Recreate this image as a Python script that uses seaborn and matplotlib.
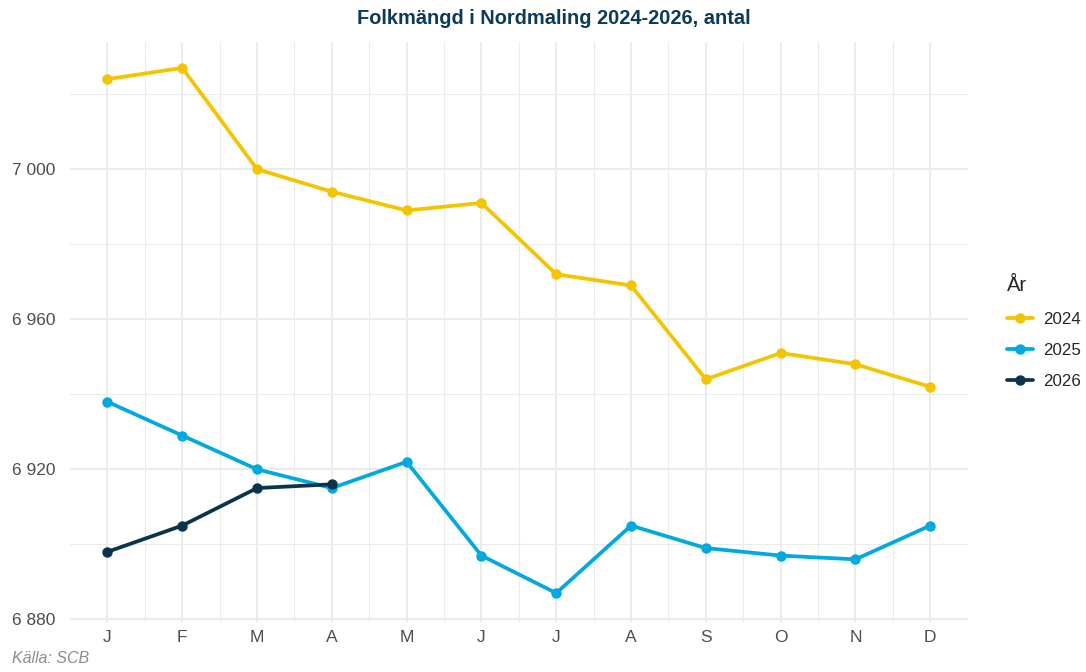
import matplotlib
matplotlib.use("Agg")
import matplotlib.pyplot as plt
import seaborn as sns
import pandas as pd
from matplotlib.ticker import FixedLocator, FuncFormatter

months = ["J", "F", "M", "A", "M", "J", "J", "A", "S", "O", "N", "D"]
v2024 = [7024, 7027, 7000, 6994, 6989, 6991, 6972, 6969, 6944, 6951, 6948, 6942]
v2025 = [6938, 6929, 6920, 6915, 6922, 6897, 6887, 6905, 6899, 6897, 6896, 6905]
v2026 = [6898, 6905, 6915, 6916]
years = ["2024", "2025", "2026"]
colors = ["#F5C400", "#00A9E0", "#0B344C"]

rows = []
for y, vals in zip(years, [v2024, v2025, v2026]):
    for i, v in enumerate(vals):
        rows.append({"Månad": i, "Folkmängd": v, "År": y})
df = pd.DataFrame(rows)

sns.set_theme(style="white")
plt.rcParams["font.family"] = ["Liberation Sans", "DejaVu Sans"]

fig = plt.figure(figsize=(10.86, 6.72), dpi=100)
ax = fig.add_axes([0.0645, 0.0744, 0.8265, 0.8631])

ax.set_xlim(-0.5, 11.5)
ax.set_ylim(6879.3, 7033.9)
grid_c = "#EBEBEB"
for x in range(12):
    ax.axvline(x, color=grid_c, lw=1.4, zorder=0)
for x in range(11):
    ax.axvline(x + 0.5, color=grid_c, lw=0.8, zorder=0)
for y in [6880, 6920, 6960, 7000]:
    ax.axhline(y, color=grid_c, lw=1.4, zorder=0)
for y in [6900, 6940, 6980, 7020]:
    ax.axhline(y, color=grid_c, lw=0.8, zorder=0)

sns.lineplot(data=df, x="Månad", y="Folkmängd", hue="År", palette=colors,
             hue_order=years, marker="o", markersize=7.5, markeredgewidth=0,
             linewidth=2.7, ax=ax, legend=True)

ax.xaxis.set_major_locator(FixedLocator(range(12)))
ax.set_xticklabels(months)
ax.yaxis.set_major_locator(FixedLocator([6880, 6920, 6960, 7000]))
ax.yaxis.set_major_formatter(FuncFormatter(lambda v, p: f"{int(v):,}".replace(",", " ")))
ax.tick_params(axis="both", labelsize=12.5, labelcolor="#4D4D4D", length=0)
ax.tick_params(axis="y", pad=10.5)
ax.tick_params(axis="x", pad=6)
ax.set_xlabel("")
ax.set_ylabel("")
for s in ax.spines.values():
    s.set_visible(False)

fig.text(554 / 1086, 1 - 18 / 672, "Folkmängd i Nordmaling 2024-2026, antal", fontsize=14.4,
         fontweight="bold", color="#0B3B56", ha="center", va="center")

leg = ax.legend(title="År", loc="upper left", bbox_to_anchor=(1.027, 0.622), frameon=False,
                fontsize=12.2, title_fontsize=14.5, handlelength=1.5, labelspacing=0.95,
                handletextpad=0.65, alignment="left")
for h in leg.legend_handles:
    h.set_linewidth(2.7)
    h.set_markersize(7.5)

fig.text(0.011, 0.0135, "Källa: SCB", fontsize=11.5, style="italic", color="#8C8C8C")

fig.savefig("out.png", dpi=100)
